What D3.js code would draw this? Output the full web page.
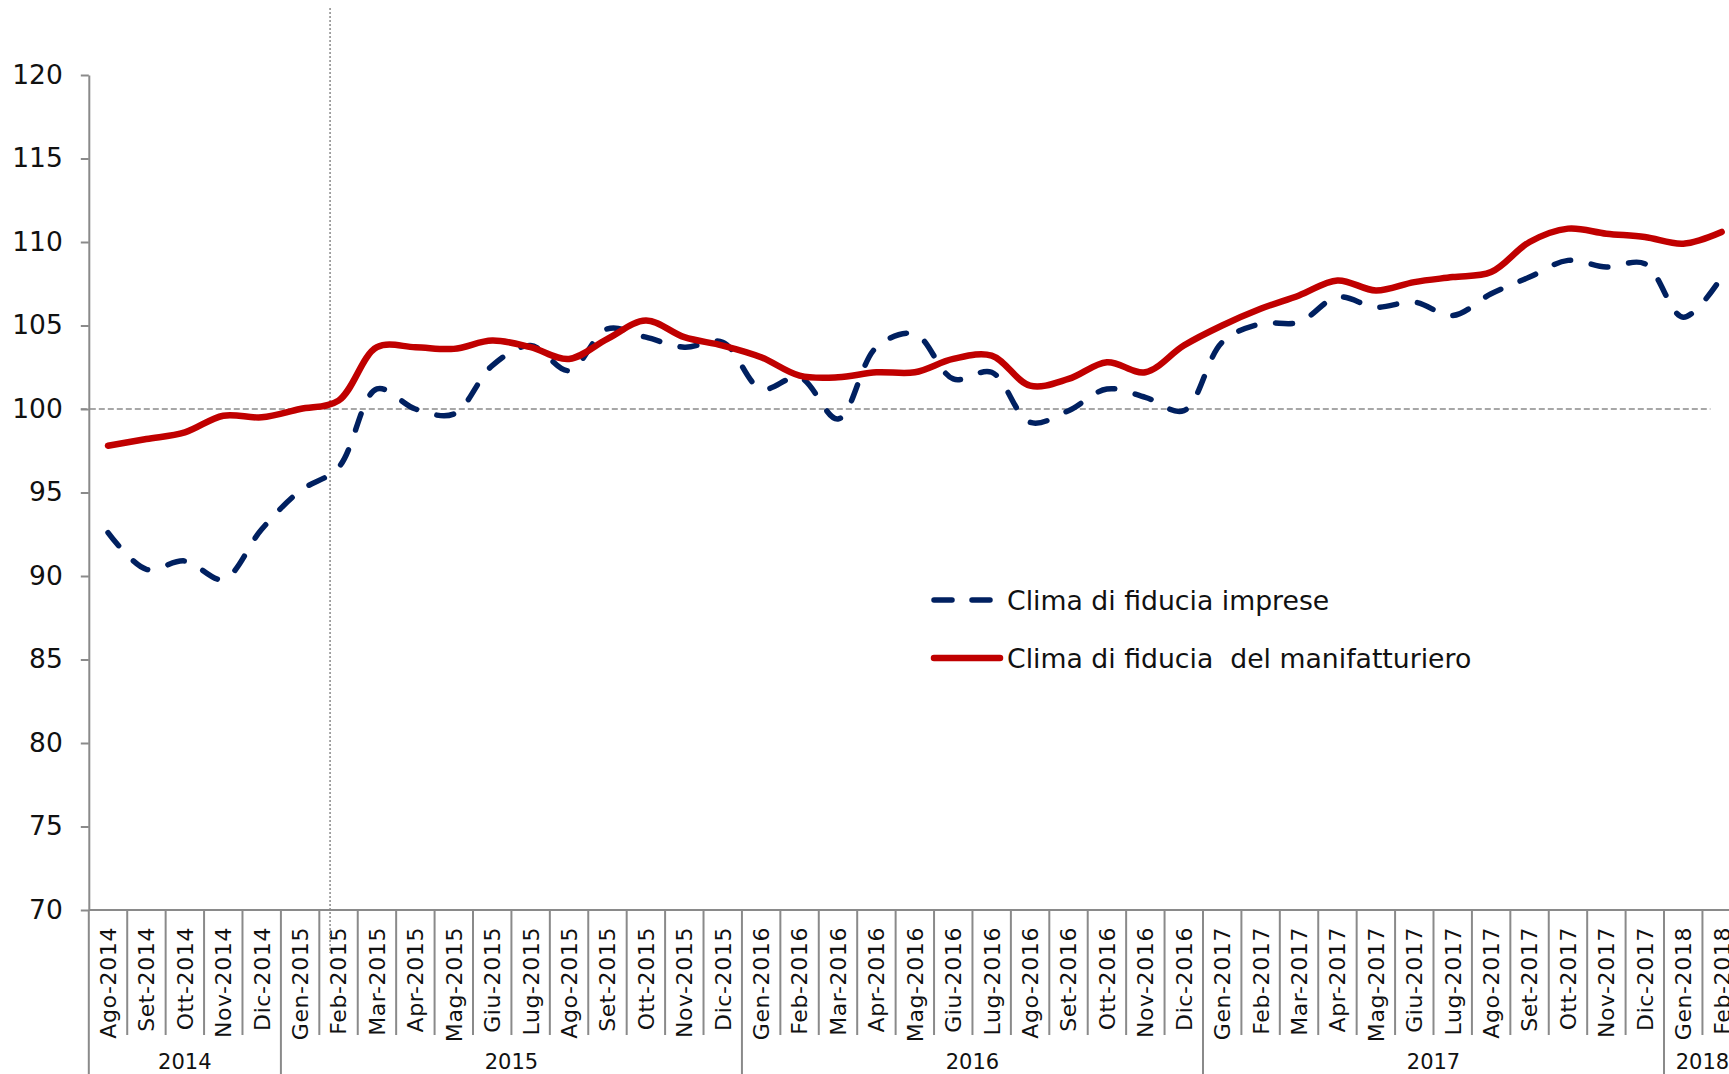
<!DOCTYPE html>
<html>
<head>
<meta charset="utf-8">
<script src="https://cdn.jsdelivr.net/npm/d3@7"></script>
<style>
  body { margin: 0; background: #fff; overflow: hidden; }
  svg { display: block; font-family: "DejaVu Sans", Verdana, sans-serif; }
</style>
</head>
<body>
<svg id="chart" width="1729" height="1074"></svg>
<script>
const categories = [
    'Ago-2014', 'Set-2014', 'Ott-2014', 'Nov-2014', 'Dic-2014',
    'Gen-2015', 'Feb-2015', 'Mar-2015', 'Apr-2015', 'Mag-2015', 'Giu-2015',
    'Lug-2015', 'Ago-2015', 'Set-2015', 'Ott-2015', 'Nov-2015', 'Dic-2015',
    'Gen-2016', 'Feb-2016', 'Mar-2016', 'Apr-2016', 'Mag-2016', 'Giu-2016',
    'Lug-2016', 'Ago-2016', 'Set-2016', 'Ott-2016', 'Nov-2016', 'Dic-2016',
    'Gen-2017', 'Feb-2017', 'Mar-2017', 'Apr-2017', 'Mag-2017', 'Giu-2017',
    'Lug-2017', 'Ago-2017', 'Set-2017', 'Ott-2017', 'Nov-2017', 'Dic-2017',
    'Gen-2018', 'Feb-2018'
];

const imprese = [
    92.6, 90.4, 90.9, 89.8, 92.8,
    95.1, 96.5, 101.2, 100.0, 99.7, 102.6, 103.8, 102.3, 104.8, 104.3, 103.7, 104.0,
    101.2, 101.9, 99.4, 103.7, 104.5, 101.8, 102.2, 99.2, 99.9, 101.2, 100.7, 99.9,
    104.0, 105.1, 105.2, 106.7, 106.1, 106.4, 105.6, 106.9, 107.9, 108.9, 108.5, 108.7,
    105.5, 107.9
];

const manifatturiero = [
    97.8, 98.2, 98.6, 99.6, 99.5,
    100.0, 100.5, 103.7, 103.7, 103.6, 104.1, 103.7, 103.0, 104.2, 105.3, 104.3, 103.8,
    103.1, 102.0, 101.9, 102.2, 102.2, 103.0, 103.2, 101.4, 101.8, 102.8, 102.2, 103.8,
    105.0, 106.0, 106.8, 107.7, 107.1, 107.6, 107.9, 108.2, 110.0, 110.8, 110.5, 110.3,
    109.9, 110.6
];

const yTicks = [70, 75, 80, 85, 90, 95, 100, 105, 110, 115, 120];
const seriesNames = ['Clima di fiducia imprese', 'Clima di fiducia  del manifatturiero'];
const referenceLevel = 100;
const markerMonth = 'Feb-2015';

const blue = '#002060';
const red = '#C00000';
const grey = '#8a8a8a';

const left = 88.8;
const step = 38.42;
const plotTop = 75;
const plotBottom = 910;

const svg = d3.select('#chart');

const x = d3.scaleBand()
    .domain(categories)
    .range([left, left + step * categories.length]);
const bw = x.bandwidth();
const cx = c => x(c) + bw / 2;

const y = d3.scaleLinear()
    .domain([70, 120])
    .range([plotBottom, plotTop]);

// y axis
const yAxis = svg.append('g')
    .attr('transform', `translate(${left},0)`)
    .call(d3.axisLeft(y).tickValues(yTicks).tickSize(8).tickSizeOuter(0).tickPadding(18));
yAxis.select('.domain').attr('stroke', grey).attr('stroke-width', 2);
yAxis.selectAll('.tick line').attr('stroke', grey).attr('stroke-width', 2);
yAxis.selectAll('.tick text')
    .attr('font-size', 26.5)
    .attr('fill', '#111')
    .attr('font-family', '"DejaVu Sans", Verdana, sans-serif');

// x axis line
svg.append('line')
    .attr('x1', left).attr('x2', x.range()[1])
    .attr('y1', y(70)).attr('y2', y(70))
    .attr('stroke', grey).attr('stroke-width', 2);

// month separators and labels
const yearOf = c => c.split('-')[1];
const isYearStart = (c, i) => i === 0 || yearOf(categories[i - 1]) !== yearOf(c);

svg.append('g').selectAll('line')
    .data(categories.concat(['end']))
    .join('line')
    .attr('x1', (c, i) => left + i * bw)
    .attr('x2', (c, i) => left + i * bw)
    .attr('y1', plotBottom)
    .attr('y2', (c, i) => (i < categories.length && isYearStart(c, i)) || i === categories.length ? 1074 : 1035)
    .attr('stroke', grey)
    .attr('stroke-width', 2);

svg.append('g').selectAll('text')
    .data(categories)
    .join('text')
    .attr('transform', c => `translate(${cx(c)},927) rotate(-90)`)
    .attr('text-anchor', 'end')
    .attr('dy', '0.36em')
    .attr('font-size', 22)
    .attr('letter-spacing', 0.6)
    .attr('fill', '#111')
    .text(c => c);

// year labels
const years = d3.groups(categories, yearOf);
svg.append('g').selectAll('text')
    .data(years)
    .join('text')
    .attr('x', ([, months]) => (x(months[0]) + x(months[months.length - 1]) + bw) / 2)
    .attr('y', 1069)
    .attr('text-anchor', 'middle')
    .attr('font-size', 21)
    .attr('fill', '#111')
    .text(([yr]) => yr);

// reference lines
svg.append('line')
    .attr('x1', left - 8).attr('x2', x('Feb-2018') + 8)
    .attr('y1', y(referenceLevel)).attr('y2', y(referenceLevel))
    .attr('stroke', grey).attr('stroke-width', 1.5)
    .attr('stroke-dasharray', '6,3');

svg.append('line')
    .attr('x1', x(markerMonth) + step * 0.28).attr('x2', x(markerMonth) + step * 0.28)
    .attr('y1', 8).attr('y2', 953)
    .attr('stroke', grey).attr('stroke-width', 1.5)
    .attr('stroke-dasharray', '2,2');

// series
const line = d3.line()
    .x((d, i) => cx(categories[i]))
    .y(d => y(d))
    .curve(d3.curveCatmullRom.alpha(0.5));

svg.append('path')
    .datum(imprese)
    .attr('d', line)
    .attr('fill', 'none')
    .attr('stroke', blue)
    .attr('stroke-width', 5.5)
    .attr('stroke-linecap', 'round')
    .attr('stroke-dasharray', '17,21');

svg.append('path')
    .datum(manifatturiero)
    .attr('d', line)
    .attr('fill', 'none')
    .attr('stroke', red)
    .attr('stroke-width', 6.5)
    .attr('stroke-linecap', 'round')
    .attr('stroke-linejoin', 'round');

// legend
const legend = svg.append('g').attr('transform', 'translate(931,600)');
legend.append('line')
    .attr('x1', 3).attr('x2', 63).attr('y1', 0).attr('y2', 0)
    .attr('stroke', blue).attr('stroke-width', 5.5)
    .attr('stroke-linecap', 'round').attr('stroke-dasharray', '18,20');
legend.append('line')
    .attr('x1', 3).attr('x2', 69).attr('y1', 58).attr('y2', 58)
    .attr('stroke', red).attr('stroke-width', 6.5)
    .attr('stroke-linecap', 'round');
legend.selectAll('text')
    .data(seriesNames)
    .join('text')
    .attr('x', 76)
    .attr('y', (d, i) => i * 58)
    .attr('dy', '0.36em')
    .attr('font-size', 26.7)
    .attr('fill', '#111')
    .attr('xml:space', 'preserve')
    .style('white-space', 'pre')
    .text(d => d);
</script>
</body>
</html>
